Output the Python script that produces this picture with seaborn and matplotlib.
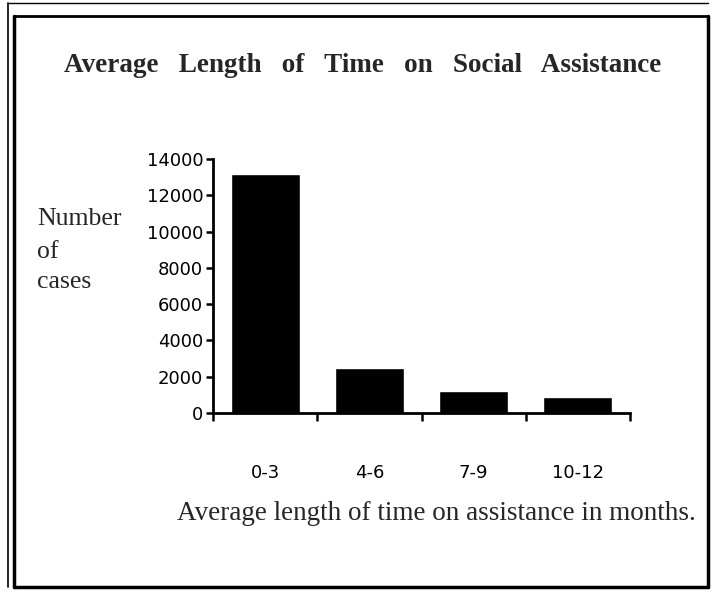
import seaborn as sns
import pandas as pd
from matplotlib import pyplot as plt
from matplotlib.lines import Line2D

# data
months = ['0-3', '4-6', '7-9', '10-12']
cases = [13150, 2500, 1200, 900]
y_ticks = [0, 2000, 4000, 6000, 8000, 10000, 12000, 14000]

df = pd.DataFrame({'months': months, 'cases': cases})

sns.set_theme(style='white')
plt.rcParams['font.family'] = ['DejaVu Sans']

fig = plt.figure(figsize=(7.11, 5.9), dpi=100)
ax = fig.add_axes([213 / 711, 1 - 413 / 590, 417 / 711, 254 / 590])

sns.barplot(data=df, x='months', y='cases', color='black', width=0.66,
            saturation=1, ax=ax)

ax.set_xlim(-0.5, 3.5)
ax.set_ylim(0, 14000)
ax.set_yticks(y_ticks)
ax.set_yticklabels([str(v) for v in y_ticks], fontsize=13, color='black')
ax.set_xticks(range(len(months)))
ax.set_xticklabels(months, fontsize=13, color='black')
ax.tick_params(axis='x', length=0, pad=37)
ax.tick_params(axis='y', length=5, width=1.8, color='black', pad=2, left=True)
ax.set_xticks([-0.5, 0.5, 1.5, 2.5, 3.5], minor=True)
ax.tick_params(axis='x', which='minor', length=6, width=1.8, color='black', bottom=True)
ax.set_xlabel('')
ax.set_ylabel('')

sns.despine(ax=ax)
for s in ['left', 'bottom']:
    ax.spines[s].set_linewidth(2)
    ax.spines[s].set_color('black')

serif = 'Liberation Serif'
fig.text(363 / 711, 1 - 72 / 590,
         'Average   Length   of   Time   on   Social   Assistance',
         ha='center', va='baseline', fontsize=19.5, fontweight='bold', family=serif)
for word, yb in [('Number', 225), ('of', 258), ('cases', 288)]:
    fig.text(37 / 711, 1 - yb / 590, word, ha='left', va='baseline',
             fontsize=18.5, family=serif)
fig.text(177 / 711, 1 - 520 / 590, 'Average length of time on assistance in months.',
         ha='left', va='baseline', fontsize=19.5, family=serif)

# page frame
def fline(x0, y0, x1, y1, lw):
    fig.add_artist(Line2D([x0 / 711, x1 / 711], [1 - y0 / 590, 1 - y1 / 590],
                          color='black', lw=lw, transform=fig.transFigure))

fline(14, 16, 708, 16, 2)
fline(14, 16, 14, 587, 2.5)
fline(14, 587, 708, 587, 2.5)
fline(708, 16, 708, 587, 2.5)
fline(8, 3, 708, 3, 1)
fline(8, 3, 8, 587, 1.2)

fig.savefig('out.png', dpi=100)
